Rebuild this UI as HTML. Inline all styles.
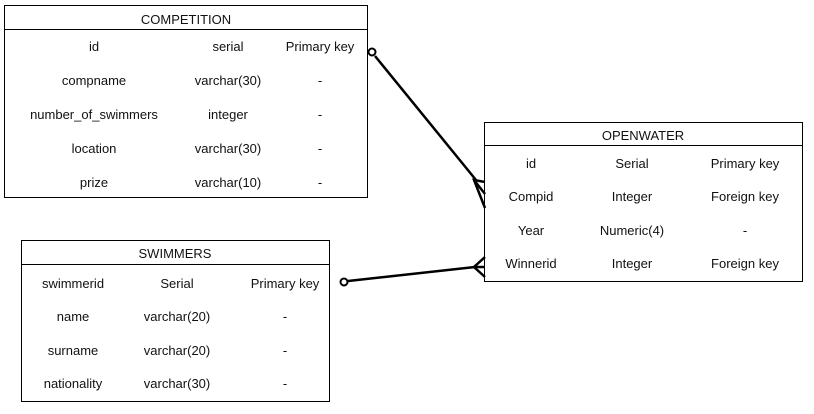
<!DOCTYPE html>
<html><head><style>
body{margin:0;background:#fff;}
svg text{font-family:"Liberation Sans",sans-serif;font-size:13px;fill:#111;text-anchor:middle;}
</style></head><body>
<svg width="814" height="409" xmlns="http://www.w3.org/2000/svg">
<g fill="none" stroke="#000" stroke-width="1">
<rect x="4.5" y="5.5" width="363" height="192"/><line x1="4" y1="29.5" x2="368" y2="29.5"/>
<rect x="484.5" y="122.5" width="318" height="159"/><line x1="484" y1="145.5" x2="803" y2="145.5"/>
<rect x="21.5" y="240.5" width="308" height="161"/><line x1="21" y1="264.5" x2="330" y2="264.5"/>
</g>
<g fill="none" stroke="#000" stroke-width="2.5">
<circle cx="372" cy="52" r="3.5" fill="#fff" stroke-width="2"/>
<line x1="375" y1="56" x2="476" y2="180"/>
<polyline points="485,182 474,180 485,208"/><line x1="474" y1="180" x2="485" y2="194"/>
<circle cx="344" cy="282" r="3.5" fill="#fff" stroke-width="2"/>
<line x1="348" y1="281" x2="475" y2="267"/>
<polyline points="485,257 474,267 485,277"/><line x1="474" y1="267" x2="485" y2="267"/>
</g>
<text x="186" y="24">COMPETITION</text>
<text x="94" y="51">id</text><text x="228" y="51">serial</text><text x="320" y="51">Primary key</text>
<text x="94" y="85">compname</text><text x="228" y="85">varchar(30)</text><text x="320" y="85">-</text>
<text x="94" y="119">number_of_swimmers</text><text x="228" y="119">integer</text><text x="320" y="119">-</text>
<text x="94" y="153">location</text><text x="228" y="153">varchar(30)</text><text x="320" y="153">-</text>
<text x="94" y="187">prize</text><text x="228" y="187">varchar(10)</text><text x="320" y="187">-</text>
<text x="643" y="140">OPENWATER</text>
<text x="531" y="168">id</text><text x="632" y="168">Serial</text><text x="745" y="168">Primary key</text>
<text x="531" y="201">Compid</text><text x="632" y="201">Integer</text><text x="745" y="201">Foreign key</text>
<text x="531" y="235">Year</text><text x="632" y="235">Numeric(4)</text><text x="745" y="235">-</text>
<text x="531" y="268">Winnerid</text><text x="632" y="268">Integer</text><text x="745" y="268">Foreign key</text>
<text x="175" y="258">SWIMMERS</text>
<text x="73" y="288">swimmerid</text><text x="177" y="288">Serial</text><text x="285" y="288">Primary key</text>
<text x="73" y="321">name</text><text x="177" y="321">varchar(20)</text><text x="285" y="321">-</text>
<text x="73" y="355">surname</text><text x="177" y="355">varchar(20)</text><text x="285" y="355">-</text>
<text x="73" y="388">nationality</text><text x="177" y="388">varchar(30)</text><text x="285" y="388">-</text>
</svg>
</body></html>
